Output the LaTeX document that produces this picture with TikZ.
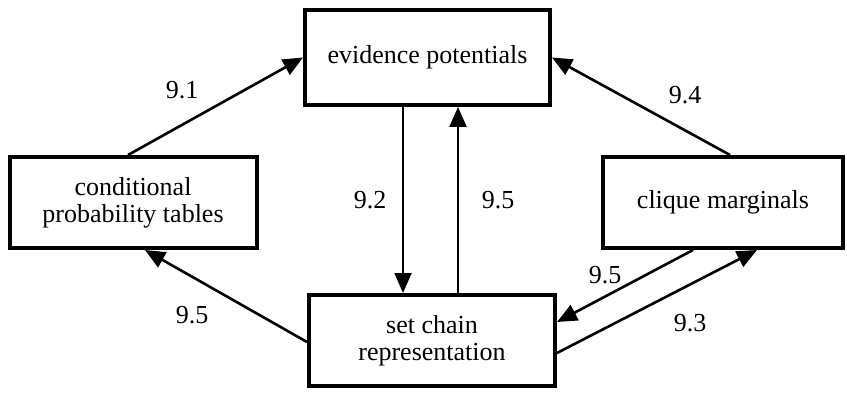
\documentclass[tikz,border=0pt]{standalone}
\usepackage{fontspec}
\setmainfont{Liberation Serif}
\usetikzlibrary{arrows.meta}
\begin{document}
\begin{tikzpicture}[x=1pt,y=-1pt,
  box/.style={draw,line width=4pt,inner sep=0pt,align=center,
    font=\fontsize{26}{27}\selectfont},
  arr/.style={line width=2.6pt,-{Triangle[length=20pt,width=17pt]}},
  lbl/.style={inner sep=0pt,font=\fontsize{26}{27}\selectfont}]
\useasboundingbox (0,0) rectangle (847,393);
\node[box,minimum width=245pt,minimum height=95pt] (ev) at (427.5,57.5) {evidence potentials};
\node[box,minimum width=247pt,minimum height=91pt] (cpt) at (133,202.5) {conditional\\probability tables};
\node[box,minimum width=246pt,minimum height=91pt] (sc) at (432,340.5) {set chain\\representation};
\node[box,minimum width=240pt,minimum height=91pt] (cm) at (723,202.5) {clique marginals};
\draw[arr] ([xshift=-5pt]cpt.north) -- (ev.west);
\draw[arr,line width=2pt] ([xshift=-24.5pt]ev.south) -- ([xshift=-29pt]sc.north);
\draw[arr] ([xshift=26pt]sc.north) -- ([xshift=30.5pt]ev.south);
\draw[arr] ([xshift=7pt]cm.north) -- (ev.east);
\draw[arr] ([yshift=-1.5pt]sc.west) -- ([xshift=12pt]cpt.south);
\draw[arr] ([xshift=-30pt]cm.south) -- ([yshift=18.5pt]sc.east);
\draw[arr] ([yshift=-12.5pt]sc.east) -- ([xshift=34pt]cm.south);
\node[lbl] (l91) at (182,90) {9.1};
\node[lbl] (l92) at (370,200) {9.2};
\node[lbl] (l95a) at (498,200) {9.5};
\node[lbl] (l94) at (685,95) {9.4};
\node[lbl] (l95b) at (192,315) {9.5};
\node[lbl] (l95c) at (605,275) {9.5};
\node[lbl] (l93) at (690,323) {9.3};
\end{tikzpicture}
\end{document}
